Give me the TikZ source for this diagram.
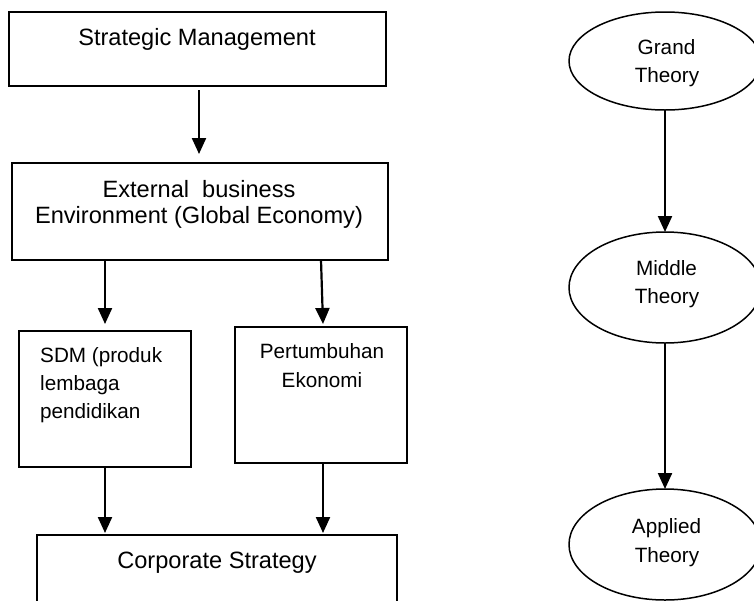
\documentclass[tikz,border=0pt]{standalone}
\usepackage{fontspec}
\setmainfont{Liberation Sans}
\usetikzlibrary{arrows.meta,calc,shapes.geometric}
\begin{document}
\begin{tikzpicture}[x=1pt,y=-1pt,
  box/.style={draw,line width=1.8pt,rectangle,inner sep=0pt,outer sep=0pt},
  oval/.style={draw,line width=1.5pt,ellipse,inner sep=0pt,outer sep=0pt,minimum width=192pt},
  arr/.style={line width=2.2pt,-{Triangle[width=14pt,length=16pt]}},
  bigt/.style={anchor=base,inner sep=0pt,font=\fontsize{23.6}{27}\selectfont},
  smallt/.style={anchor=base,inner sep=0pt,font=\fontsize{20.7}{28}\selectfont},
  smallleft/.style={anchor=base west,inner sep=0pt,font=\fontsize{20.7}{28}\selectfont}]
\useasboundingbox[fill=white] (0,0) rectangle (754,600);
% left column boxes
\node[box,minimum width=377pt,minimum height=74pt] (sm) at (197.5,49) {};
\node[box,minimum width=376pt,minimum height=97pt] (eb) at (200,211.5) {};
\node[box,minimum width=172pt,minimum height=136pt] (sdm) at (105,399) {};
\node[box,minimum width=172pt,minimum height=136pt] (pe) at (321,395) {};
\node[box,minimum width=360pt,minimum height=110pt] (co) at (217,590) {};
% texts
\node[bigt] (t1) at (197,45) {Strategic Management};
\node[bigt] (t2) at (199,197) {External~ business};
\node[bigt] (t3) at (199,223) {Environment (Global Economy)};
\node[smallleft] (t4) at (40,362) {SDM (produk};
\node[smallleft] (t5) at (40,390) {lembaga};
\node[smallleft] (t6) at (40,418) {pendidikan};
\node[smallt] (t7) at (322,358) {Pertumbuhan};
\node[smallt] (t8) at (322,387) {Ekonomi};
\node[bigt] (t9) at (217,568) {Corporate Strategy};
% left arrows
\draw[arr] ($(sm.south)+(1.5,4)$) -- ($(sm.south |- eb.north)+(1.5,-9)$);
\draw[arr] (eb.south -| sdm.north) -- ($(sdm.north)+(0,-7)$);
\draw[arr] (eb.south -| pe.north) -- ($(pe.north)+(2,-3)$);
\draw[arr] (sdm.south) -- ($(sdm.south |- co.north)+(0,-2)$);
\draw[arr] ($(pe.south)+(2,0)$) -- ($(pe.south |- co.north)+(2,-2)$);
% right column ellipses
\node[oval,minimum height=98pt] (gt) at (665,61) {};
\node[oval,minimum height=111pt] (mt) at (665,287.5) {};
\node[oval,minimum height=111pt] (at) at (665,544.5) {};
\node[smallt] (g1) at (666.5,54) {Grand};
\node[smallt] (g2) at (667,82) {Theory};
\node[smallt] (m1) at (666.5,275) {Middle};
\node[smallt] (m2) at (667,303) {Theory};
\node[smallt] (a1) at (666.5,533) {Applied};
\node[smallt] (a2) at (667,562) {Theory};
\draw[arr] (gt.south) -- (mt.north);
\draw[arr] (mt.south) -- (at.north);
\end{tikzpicture}
\end{document}
